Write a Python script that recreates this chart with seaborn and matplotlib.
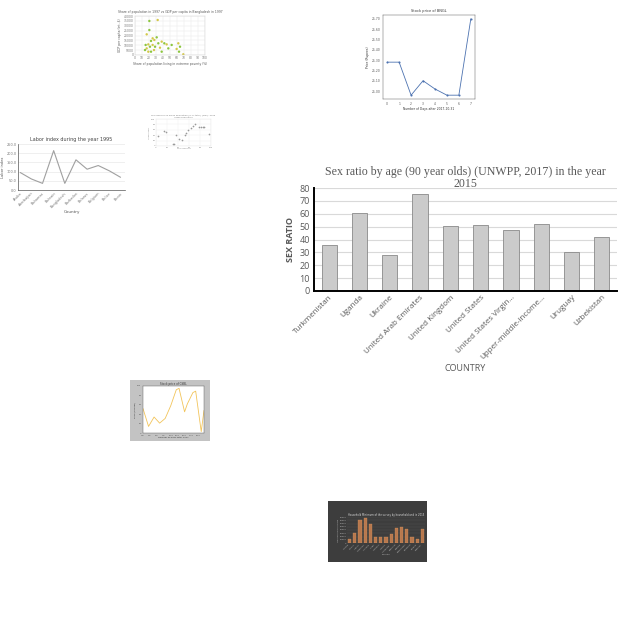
import numpy as np
import pandas as pd
import matplotlib
matplotlib.use('Agg')
import matplotlib.pyplot as plt
from matplotlib.patches import Rectangle
import seaborn as sns

W, H = 640, 640

# ---- main chart: sex ratio of 90 year olds ----
countries = ['Turkmenistan', 'Uganda', 'Ukraine', 'United Arab Emirates', 'United Kingdom',
             'United States', 'United States Virgin…', 'Upper-middle-income…', 'Uruguay', 'Uzbekistan']
sex_ratio = [36, 60.5, 28, 75, 50.5, 51.5, 47.5, 52, 30, 42]

# ---- thumbnail: scatter top left ----
sc1_x = [20.5, 32.4, 20.5, 16.7, 31.0, 25.2, 22.9, 27.6, 15.2, 19.0, 21.4, 25.2, 28.6, 16.7, 14.3, 19.0,
         22.9, 27.1, 33.3, 38.1, 41.9, 45.2, 52.4, 35.7, 47.6, 61.9, 64.3, 59.5, 62.9, 69.0, 38.1]
sc1_y = [34900, 35900, 25600, 21200, 18100, 17100, 14400, 15400, 10300, 10900, 8500, 10300, 8500, 6800,
         5100, 3400, 3400, 5100, 12000, 13700, 12000, 10900, 10300, 7500, 6800, 12000, 8500, 6200,
         3400, 700, 3400]
sc1_grp = ['a', 'b', 'a', 'b', 'a', 'b', 'a', 'b', 'a', 'b', 'a', 'b', 'a', 'b', 'a', 'b',
           'a', 'b', 'a', 'b', 'a', 'b', 'a', 'b', 'a', 'b', 'a', 'b', 'a', 'b', 'a']

# ---- thumbnail: stock price line top right ----
days = [0, 1, 2, 3, 4, 5, 6, 7]
price = [25.28, 25.28, 24.96, 25.10, 25.02, 24.96, 24.96, 25.70]

# ---- thumbnail: small scatter ----
sc3_x = [15, 18, 36, 52, 55, 58, 64, 67, 70, 79, 82, 85, 88, 97, 30, 33, 42, 48, 3]
sc3_y = [54, 51, 40, 41, 50, 59, 66, 75, 81, 72, 72, 72, 72, 46, 6, 9, 25, 21, 38]

# ---- thumbnail: labor index ----
labor_countries = ['Aruba', 'Azerbaijan', 'Bahamas', 'Bahrain', 'Bangladesh',
                   'Barbados', 'Belarus', 'Belgium', 'Belize', 'Benin']
labor_index = [95, 60, 36, 214, 36, 164, 113, 133, 104, 69]

# ---- thumbnail: yellow line ----
y6_x = [0, 2, 4, 6, 8, 10, 12, 13, 15, 16, 18, 19, 21, 22]
y6_y = [52, 14, 34, 21, 31, 58, 92, 95, 45, 62, 86, 89, 3, 48]

# ---- thumbnail: dark orange bars ----
bar7_labels = ['Albania', 'Algeria', 'Angola', 'Argentina', 'Armenia', 'Aruba', 'Australia', 'Austria',
               'Azerbaijan', 'Bahamas', 'Bahrain', 'Bangladesh', 'Barbados', 'Belarus', 'Belgium']
bar7_vals = [12000, 30000, 70000, 77000, 57000, 18000, 20000, 17000, 29000, 45000, 50000, 42000,
             20000, 13000, 42000]


def rect(x0, y0, x1, y1):
    return [x0 / W, 1 - y1 / H, (x1 - x0) / W, (y1 - y0) / H]


sns.set_theme(style='white')
plt.rcParams['font.family'] = ['DejaVu Sans']
fig = plt.figure(figsize=(6.4, 6.4), dpi=100)
fig.patch.set_facecolor('white')

tiny = 2.2

# scatter 1
ax1 = fig.add_axes(rect(135, 16, 205, 55))
sns.scatterplot(x=sc1_x, y=sc1_y, hue=sc1_grp, palette={'a': '#8cc63f', 'b': '#d4c84a'},
                s=3, linewidth=0, legend=False, ax=ax1)
ax1.set_xlim(0, 100)
ax1.set_ylim(0, 40000)
ax1.set_xticks(range(0, 101, 10))
ax1.set_yticks(range(0, 40001, 5000))
ax1.tick_params(labelsize=tiny, length=0, pad=1, colors='#777777')
ax1.grid(True, color='#e6e6e6', linewidth=0.3)
ax1.set_title('Share of population in 1997 vs GDP per capita in Bangladesh in 1997', fontsize=tiny, pad=2, color='#555555')
ax1.set_xlabel('Share of population living in extreme poverty (%)', fontsize=tiny, labelpad=1, color='#555555')
ax1.set_ylabel('GDP per capita (int.-$)', fontsize=tiny, labelpad=1, color='#555555')
for s in ax1.spines.values():
    s.set_linewidth(0.3)
    s.set_color('#cccccc')

# stock price line
ax2 = fig.add_axes(rect(383, 15, 475, 99))
sns.lineplot(x=days, y=price, color='#4c72b0', marker='o', markersize=1.5, linewidth=0.6,
             markeredgewidth=0, ax=ax2)
ax2.set_xticks(days)
ax2.set_yticks(np.round(np.arange(25.0, 25.71, 0.1), 2))
ax2.yaxis.set_major_formatter(matplotlib.ticker.FormatStrFormatter('%.2f'))
ax2.tick_params(labelsize=tiny, length=1, width=0.3, pad=1, colors='#555555')
ax2.set_title('Stock price of BNGL', fontsize=tiny + 0.3, pad=2, color='#333333')
ax2.set_xlabel('Number of Days after 2017-10-31', fontsize=tiny, labelpad=1, color='#333333')
ax2.set_ylabel('Price (Rupees)', fontsize=tiny, labelpad=1, color='#333333')
for s in ax2.spines.values():
    s.set_linewidth(0.3)
    s.set_color('#444444')

# small scatter
ax3 = fig.add_axes(rect(156, 119, 211, 146))
sns.scatterplot(x=sc3_x, y=sc3_y, color='#9a9a9a', s=1.5, linewidth=0, ax=ax3)
ax3.set_xlim(0, 100)
ax3.set_ylim(0, 100)
ax3.tick_params(labelsize=1.6, length=0, pad=0.5, colors='#888888')
ax3.grid(True, color='#eeeeee', linewidth=0.3)
ax3.set_title('Tax revenue vs urban population (% of total) (WDI), 2013\nurban population', fontsize=1.6,
              pad=1, color='#777777')
ax3.set_xlabel('Tax revenue', fontsize=1.6, labelpad=0.5, color='#888888')
ax3.set_ylabel('Urban pop.', fontsize=1.6, labelpad=0.5, color='#888888')
for s in ax3.spines.values():
    s.set_linewidth(0.2)
    s.set_color('#dddddd')

# labor index
ax4 = fig.add_axes(rect(18, 144, 125, 190))
xi = np.arange(len(labor_countries))
sns.lineplot(x=xi, y=labor_index, color='#a0a0a0', linewidth=0.8, ax=ax4)
ax4.set_xlim(-0.2, len(labor_countries) - 0.6)
ax4.set_ylim(0, 250)
ax4.set_yticks(range(0, 251, 50))
ax4.set_yticklabels([f'{v:.1f}' for v in range(0, 251, 50)])
ax4.set_xticks(xi)
ax4.set_xticklabels(labor_countries, rotation=45, ha='right', rotation_mode='anchor')
ax4.tick_params(labelsize=2.5, length=0, pad=1, colors='#777777')
ax4.grid(True, axis='y', color='#e3e3e3', linewidth=0.4)
ax4.set_title('Labor index during the year 1995', fontsize=3.5, pad=2, color='#444444')
ax4.set_xlabel('Country', fontsize=3, labelpad=1, color='#555555')
ax4.set_ylabel('Labor index', fontsize=2.6, labelpad=1, color='#555555')
for side in ['top', 'right']:
    ax4.spines[side].set_visible(False)
ax4.spines['left'].set_color('#555555')
ax4.spines['bottom'].set_color('#555555')
ax4.spines['left'].set_linewidth(0.5)
ax4.spines['bottom'].set_linewidth(0.5)

# yellow line on gray panel
fig.patches.append(Rectangle((130 / W, 1 - 441 / H), 80 / W, 61 / H, transform=fig.transFigure,
                             facecolor='#c3c3c3', edgecolor='none', zorder=-5))
ax6 = fig.add_axes(rect(143, 386, 204, 433))
sns.lineplot(x=y6_x, y=y6_y, color='#f2c45a', linewidth=0.6, ax=ax6)
ax6.set_xlim(0, 22)
ax6.set_ylim(0, 100)
ax6.tick_params(labelsize=1.6, length=0.8, width=0.3, pad=0.5, colors='#555555')
ax6.set_title('Stock price of CSBL', fontsize=2, pad=1, color='#333333')
ax6.set_xlabel('Number of Days after 2017', fontsize=1.6, labelpad=0.5, color='#333333')
ax6.set_ylabel('Price (Rupees)', fontsize=1.6, labelpad=0.5, color='#333333')
for s in ax6.spines.values():
    s.set_linewidth(0.3)
    s.set_color('#555555')

# dark orange bars
fig.patches.append(Rectangle((328 / W, 1 - 562 / H), 99 / W, 61 / H, transform=fig.transFigure,
                             facecolor='#3d3d3d', edgecolor='none', zorder=-5))
ax7 = fig.add_axes(rect(347, 517, 425, 543))
ax7.set_facecolor('#3d3d3d')
sns.barplot(x=bar7_labels, y=bar7_vals, color='#c8743d', width=0.6, edgecolor='#e09a60',
            linewidth=0.2, ax=ax7)
ax7.set_ylim(0, 80000)
ax7.set_yticks(range(0, 80001, 10000))
ax7.tick_params(axis='x', labelsize=1.5, rotation=45, length=0, pad=0.5, colors='#bbbbbb')
ax7.tick_params(axis='y', labelsize=1.5, length=0, pad=0.5, colors='#bbbbbb')
for lbl in ax7.get_xticklabels():
    lbl.set_ha('right')
ax7.grid(True, axis='y', color='#555555', linewidth=0.3)
ax7.set_axisbelow(True)
ax7.set_title('Household Minimum of the survey by household and in 2015', fontsize=1.8, pad=1,
              color='#dddddd')
ax7.set_xlabel('Country', fontsize=1.6, labelpad=0.5, color='#bbbbbb')
ax7.set_ylabel('Household minimum', fontsize=1.6, labelpad=0.5, color='#bbbbbb')
for s in ax7.spines.values():
    s.set_visible(False)

# main chart
ax = fig.add_axes(rect(314, 188, 617, 291))
sns.barplot(x=countries, y=sex_ratio, color='#cbcbcb', width=0.5, edgecolor='#8a8a8a',
            linewidth=0.6, ax=ax)
ax.set_ylim(0, 80)
ax.set_yticks(range(0, 81, 10))
ax.grid(True, axis='y', color='#d9d9d9', linewidth=0.8)
ax.set_axisbelow(True)
ax.tick_params(axis='y', length=0, pad=3, labelsize=6.5, labelcolor='#595959')
ax.tick_params(axis='x', length=0, pad=2, labelsize=5.8, labelcolor='#595959')
ax.set_xticks(range(len(countries)))
ax.set_xticklabels(countries, rotation=45, ha='right', rotation_mode='anchor', family=['Open Sans', 'DejaVu Sans'])
for lbl in ax.get_yticklabels():
    lbl.set_family(['Open Sans', 'DejaVu Sans'])
for side in ['top', 'right']:
    ax.spines[side].set_visible(False)
ax.spines['left'].set_color('black')
ax.spines['left'].set_linewidth(1.4)
ax.spines['bottom'].set_color('black')
ax.spines['bottom'].set_linewidth(1.4)
ax.set_title('Sex ratio by age (90 year olds) (UNWPP, 2017) in the year\n2015', fontsize=8.6,
             color='#595959', family=['Liberation Serif', 'DejaVu Serif'], pad=1, linespacing=1.0)
ax.set_xlabel('COUNTRY', fontsize=6.5, color='#595959', family=['Open Sans', 'DejaVu Sans'], labelpad=2)
ax.set_ylabel('SEX RATIO', fontsize=6.5, color='#595959', family=['Open Sans', 'DejaVu Sans'],
              fontweight='bold', labelpad=3)

fig.savefig('out.png', dpi=100)
